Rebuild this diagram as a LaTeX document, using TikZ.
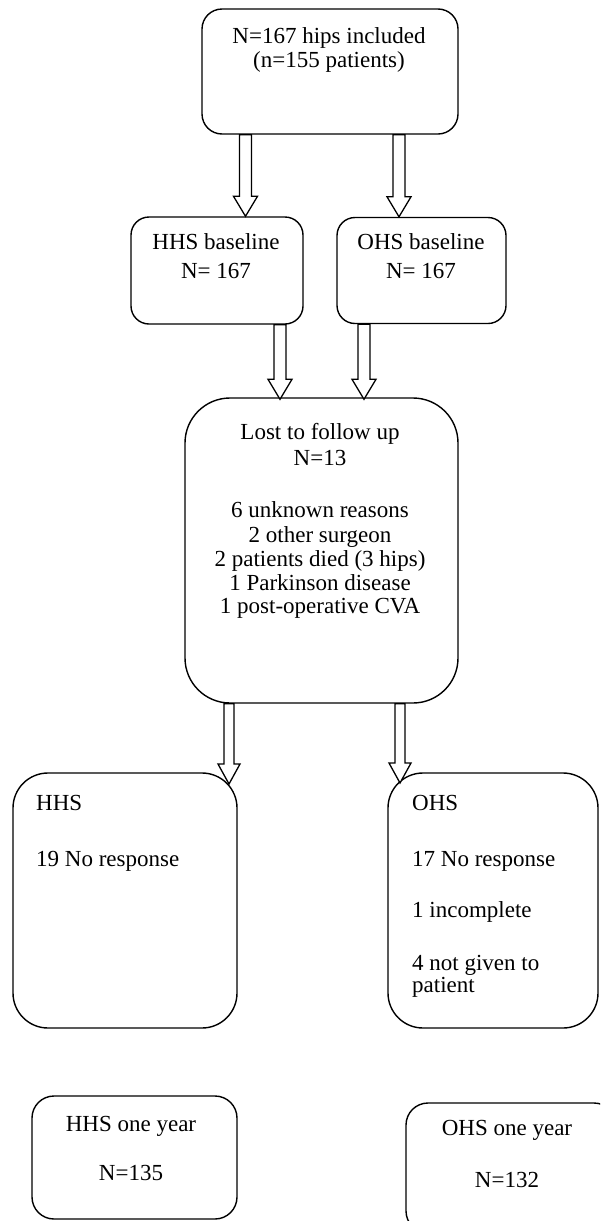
\documentclass[tikz,border=0pt]{standalone}
\usepackage{fontspec}
\setmainfont{Liberation Serif}
\usetikzlibrary{calc}
\tikzset{
  box/.style={draw, line width=1.4pt, rectangle, rounded corners=#1, inner sep=0pt},
  box/.default=18pt,
  txt/.style={anchor=base, inner sep=0pt, font=\fontsize{23}{25}\selectfont},
  ltxt/.style={txt, anchor=base west},
  blk/.style={draw, fill=white, line width=1.3pt, line join=miter}
}
\newcommand\blockarr[4]{%
  \draw[blk] let \p1=(#1), \p2=(#2) in
    (\x1-#3,\y1) -- (\x1-#3,\y2+20pt) -- (\x1-#4,\y2+20pt) -- (\x1,\y2)
    -- (\x1+#4,\y2+20pt) -- (\x1+#3,\y2+20pt) -- (\x1+#3,\y1) -- cycle;}
\begin{document}
\begin{tikzpicture}[x=1pt,y=-1pt]
\useasboundingbox (0,0) rectangle (600,1221);
\clip (0,0) rectangle (600,1221);
\fill[white] (0,0) rectangle (600,1221);

% boxes
\node[box=20pt, minimum width=256pt, minimum height=125pt] (top) at (330,71.5) {};
\node[box=18pt, minimum width=172pt, minimum height=107pt] (hhsb) at (217,270.5) {};
\node[box=18pt, minimum width=169pt, minimum height=106pt] (ohsb) at (421.5,270.5) {};
\node[box=45pt, minimum width=273pt, minimum height=305pt] (lost) at (321.5,550.5) {};
\node[box=35pt, minimum width=224pt, minimum height=255pt] (hhs) at (125,900.5) {};
\node[box=35pt, minimum width=210pt, minimum height=255pt] (ohs) at (493,900.5) {};
\node[box=22pt, minimum width=205pt, minimum height=123pt] (hhsone) at (134.5,1157.5) {};
\node[box=22pt, minimum width=210pt, minimum height=130pt] (ohsone) at (511,1168) {};

% texts
\node[txt] (t1) at (329,43) {N=167 hips included};
\node[txt] (t2) at (329,67) {(n=155 patients)};
\node[txt] (t3) at (216,249) {HHS baseline};
\node[txt] (t4) at (216,278) {N= 167};
\node[txt] (t5) at (421,249) {OHS baseline};
\node[txt] (t6) at (421,278) {N= 167};
\node[txt] (t7) at (320,439) {Lost to follow up};
\node[txt] (t8) at (320,465) {N=13};
\node[txt] (t9) at (320,517) {6 unknown reasons};
\node[txt] (t10) at (320,542) {2 other surgeon};
\node[txt] (t11) at (320,566) {2 patients died (3 hips)};
\node[txt] (t12) at (320,590) {1 Parkinson disease};
\node[txt] (t13) at (320,613) {1 post-operative CVA};
\node[ltxt] (t14) at (36,810) {HHS};
\node[ltxt] (t15) at (36,866) {19 No response};
\node[ltxt] (t16) at (412,810) {OHS};
\node[ltxt] (t17) at (412,866) {17 No response};
\node[ltxt] (t18) at (412,917) {1 incomplete};
\node[ltxt] (t19) at (412,970) {4 not given to};
\node[ltxt] (t20) at (412,992) {patient};
\node[txt] (t21) at (131,1131) {HHS one year};
\node[txt] (t22) at (131,1180) {N=135};
\node[txt] (t23) at (507,1135) {OHS one year};
\node[txt] (t24) at (507,1187) {N=132};

% arrow end points
\coordinate (a1s) at (top.south -| 245.5,0);
\coordinate (a1e) at (hhsb.north -| 245.5,0);
\coordinate (a2s) at (top.south -| 399,0);
\coordinate (a2e) at (ohsb.north -| 399,0);
\coordinate (a3s) at (hhsb.south -| 280,0);
\coordinate (a3e) at ($(lost.north -| 280,0)+(0,2)$);
\coordinate (a4s) at (ohsb.south -| 364,0);
\coordinate (a4e) at ($(lost.north -| 364,0)+(0,2)$);
\coordinate (a5s) at (lost.south -| 229,0);
\coordinate (a5e) at (229,784);
\coordinate (a6s) at (lost.south -| 400,0);
\coordinate (a6e) at (400,783);

\blockarr{a1s}{a1e}{6pt}{12pt}
\blockarr{a2s}{a2e}{6pt}{12pt}
\blockarr{a3s}{a3e}{6pt}{12pt}
\blockarr{a4s}{a4e}{6pt}{12pt}
\blockarr{a5s}{a5e}{5pt}{11pt}
\blockarr{a6s}{a6e}{5pt}{11pt}
\end{tikzpicture}
\end{document}
